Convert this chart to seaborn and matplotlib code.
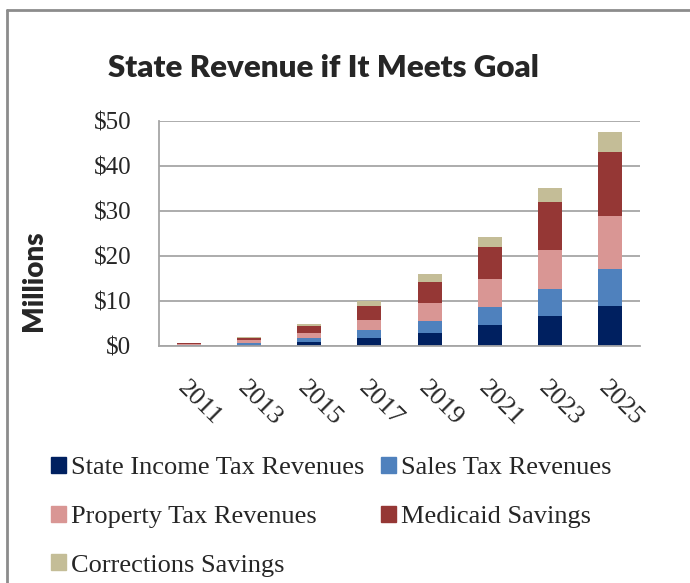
import numpy as np
import pandas as pd
import matplotlib.pyplot as plt
import matplotlib.transforms as mtransforms
import seaborn as sns
from matplotlib.lines import Line2D
from matplotlib.patches import Patch

years = ['2011', '2013', '2015', '2017', '2019', '2021', '2023', '2025']
income_tax = [0.1, 0.3, 1.0, 1.8, 2.9, 4.6, 6.6, 9.0]
sales_tax = [0.1, 0.4, 0.8, 1.7, 2.6, 4.1, 6.1, 8.2]
property_tax = [0.2, 0.6, 1.1, 2.2, 4.0, 6.2, 8.7, 11.6]
medicaid = [0.2, 0.5, 1.5, 3.2, 4.8, 7.1, 10.5, 14.3]
corrections = [0.1, 0.2, 0.5, 1.0, 1.6, 2.3, 3.2, 4.5]

series = ['State Income Tax Revenues', 'Sales Tax Revenues', 'Property Tax Revenues',
          'Medicaid Savings', 'Corrections Savings']
colors = ['#002060', '#4f81bd', '#d99694', '#953735', '#c4bd97']

df = pd.DataFrame({
    series[0]: income_tax,
    series[1]: sales_tax,
    series[2]: property_tax,
    series[3]: medicaid,
    series[4]: corrections,
}, index=years)
cum = df.cumsum(axis=1)

sns.set_style('white')
fig = plt.figure(figsize=(6.9, 5.83), dpi=100)
ax = fig.add_axes([159/690, 1 - 346/583, 481/690, 225/583])

# stack by drawing the cumulative totals from the top layer down
for name, col in reversed(list(zip(series, colors))):
    sns.barplot(x=cum.index, y=cum[name], color=col, saturation=1, width=0.4,
                linewidth=0, ax=ax)

ax.set_ylim(0, 50)
ax.set_yticks(range(0, 51, 10))
ax.set_yticklabels([f'${v}' for v in range(0, 51, 10)], family='Liberation Serif', fontsize=18)
ax.set_xticks(range(len(years)))
ax.set_xticklabels(years, family='Liberation Serif', fontsize=19, rotation=-45,
                   ha='left', va='top', rotation_mode='anchor')
offset = mtransforms.ScaledTranslation(15/100, 0, fig.dpi_scale_trans)
for lbl in ax.get_xticklabels():
    lbl.set_transform(lbl.get_transform() + offset)
ax.tick_params(axis='y', length=0, pad=20)
ax.tick_params(axis='x', length=0, pad=22)
ax.set_xlabel('')
ax.set_ylabel('')
ax.yaxis.grid(True, color='#a6a6a6', lw=1.3)
ax.set_axisbelow(True)
for s in ['top', 'right']:
    ax.spines[s].set_visible(False)
for s in ['left', 'bottom']:
    ax.spines[s].set_color('#a6a6a6')
    ax.spines[s].set_linewidth(1.3)

fig.text(323/690, 1 - 68/583, 'State Revenue if It Meets Goal', family='Lato',
         fontweight='heavy', fontsize=22.5, ha='center', va='center')
fig.text(34/690, 1 - 281/583, 'Millions', family='Lato', fontweight='heavy',
         fontsize=20, rotation=90, ha='center', va='center')

# outer frame (left and top edges only are visible)
fig.add_artist(Line2D([7/690, 7/690], [0, 1 - 10/583], color='#8c8c8c', lw=2, transform=fig.transFigure))
fig.add_artist(Line2D([7/690, 1], [1 - 10/583, 1 - 10/583], color='#8c8c8c', lw=2, transform=fig.transFigure))

handles = [Patch(color=c, label=n) for n, c in zip(series, colors)]
order = [0, 2, 4, 1, 3]
fig.legend([handles[i] for i in order], [series[i] for i in order], ncol=2,
           loc='upper left', bbox_to_anchor=(51/690, 1 - 457/583), frameon=False,
           prop={'family': 'Liberation Serif', 'size': 19}, handlelength=0.55,
           handleheight=0.55, handletextpad=0.2, columnspacing=0.65,
           labelspacing=1.0, borderpad=0, borderaxespad=0)

plt.savefig('out.png')
